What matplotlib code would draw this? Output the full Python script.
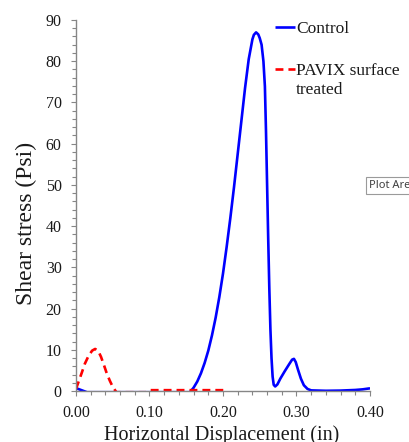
import matplotlib
matplotlib.use("Agg")
import matplotlib.pyplot as plt
from matplotlib.ticker import MultipleLocator, FormatStrFormatter

# Data
control_x = [0.000, 0.015, 0.155, 0.160, 0.165, 0.170, 0.175, 0.180, 0.185, 0.190,
             0.195, 0.200, 0.205, 0.210, 0.215, 0.220, 0.225, 0.230, 0.235, 0.240,
             0.242, 0.245, 0.248, 0.250, 0.2525, 0.255, 0.257, 0.2585, 0.260, 0.2615,
             0.263, 0.2645, 0.266, 0.2675, 0.269, 0.271, 0.274, 0.278, 0.284, 0.290,
             0.294, 0.2965, 0.299, 0.302, 0.306, 0.310, 0.315, 0.320, 0.340, 0.360,
             0.380, 0.390, 0.400]
control_y = [0.7, -0.3, -0.3, 0.8, 2.3, 4.3, 6.8, 9.8, 13.5, 17.8,
             22.8, 28.5, 35.0, 42.0, 49.5, 57.5, 65.5, 73.5, 80.5, 85.3,
             86.4, 87.0, 86.5, 85.6, 84.0, 80.0, 73.9, 63.0, 50.0, 37.0,
             25.0, 15.0, 8.0, 3.5, 1.5, 1.1, 1.6, 3.0, 4.8, 6.5,
             7.6, 7.8, 7.0, 5.2, 3.0, 1.4, 0.5, 0.15, 0.05, 0.1,
             0.25, 0.4, 0.65]

pavix_x = [0.000, 0.004, 0.008, 0.012, 0.017, 0.022, 0.026, 0.030, 0.034, 0.038,
           0.042, 0.046, 0.050, 0.055, 0.095, 0.098, 0.205]
pavix_y = [0.5, 2.5, 4.5, 6.6, 8.5, 9.8, 10.2, 9.8, 8.3, 6.3,
           4.2, 2.5, 1.0, -0.3, -0.3, 0.2, 0.2]

x_label = "Horizontal Displacement (in)"
y_label = "Shear stress (Psi)"
series_names = ["Control", "PAVIX surface"]
series_name_2nd_line = "treated"

W, H = 410, 442
fig = plt.figure(figsize=(W / 100, H / 100), dpi=100)
ax = fig.add_axes([76 / W, 1 - 391 / H, (370 - 76) / W, (391 - 20) / H])

serif = ["Liberation Serif", "DejaVu Serif"]
txt_color = "#1a1a1a"

ax.plot(control_x, control_y, color="#0000FF", lw=1.9, zorder=2,
        solid_capstyle="butt", label=series_names[0])
ax.plot(pavix_x, pavix_y, color="#FF0000", lw=1.9, zorder=2,
        dashes=(3.0, 1.9), label=series_names[1])

ax.set_xlim(0, 0.40)
ax.set_ylim(0, 90)
ax.xaxis.set_major_locator(MultipleLocator(0.10))
ax.xaxis.set_minor_locator(MultipleLocator(0.02))
ax.yaxis.set_major_locator(MultipleLocator(10))
ax.yaxis.set_minor_locator(MultipleLocator(2))
ax.xaxis.set_major_formatter(FormatStrFormatter("%.2f"))

for s in ["top", "right"]:
    ax.spines[s].set_visible(False)
for s in ["left", "bottom"]:
    ax.spines[s].set_color("#868686")
    ax.spines[s].set_linewidth(1.0)
    ax.spines[s].set_zorder(3)

ax.tick_params(which="major", direction="out", length=3.8, width=0.8,
               color="#868686", labelsize=11.5, labelcolor=txt_color)
ax.tick_params(axis="x", which="major", pad=6.5)
ax.tick_params(axis="y", which="major", pad=6.5)
ax.tick_params(which="minor", direction="out", length=2.8, width=0.8, color="#868686")
for lab in ax.get_xticklabels() + ax.get_yticklabels():
    lab.set_fontfamily(serif)

ax.set_xlabel(x_label, fontsize=14.5, family=serif, color=txt_color, va="baseline")
ax.xaxis.set_label_coords(0.5 - 1.5 / 294, (391 - 440) / 371)
ax.set_ylabel(y_label, fontsize=17, family=serif, color=txt_color, va="center")
ax.yaxis.set_label_coords((26.5 - 76) / 294, (391 - 223) / 371)

leg = fig.legend(loc="upper left", bbox_to_anchor=(268 / W, 1 - 14 / H),
                 frameon=False, handlelength=1.15, handletextpad=0.05,
                 labelspacing=1.5, borderaxespad=0,
                 prop={"family": serif, "size": 12.5})
for t in leg.get_texts():
    t.set_color(txt_color)

fig.canvas.draw()
bb = leg.get_texts()[1].get_window_extent()
fig.text(bb.x0 / W, (bb.y0 - 19) / H, series_name_2nd_line, fontsize=12.5,
         family=serif, color=txt_color, ha="left", va="bottom")

fig.text(369 / W, 1 - 185.5 / H, "Plot Area", fontsize=8, family="Noto Sans",
         color="#404040", va="center", ha="left",
         bbox=dict(boxstyle="square,pad=0.3", fc="white", ec="#9a9a9a", lw=0.8))

fig.savefig("out.png", dpi=100)
